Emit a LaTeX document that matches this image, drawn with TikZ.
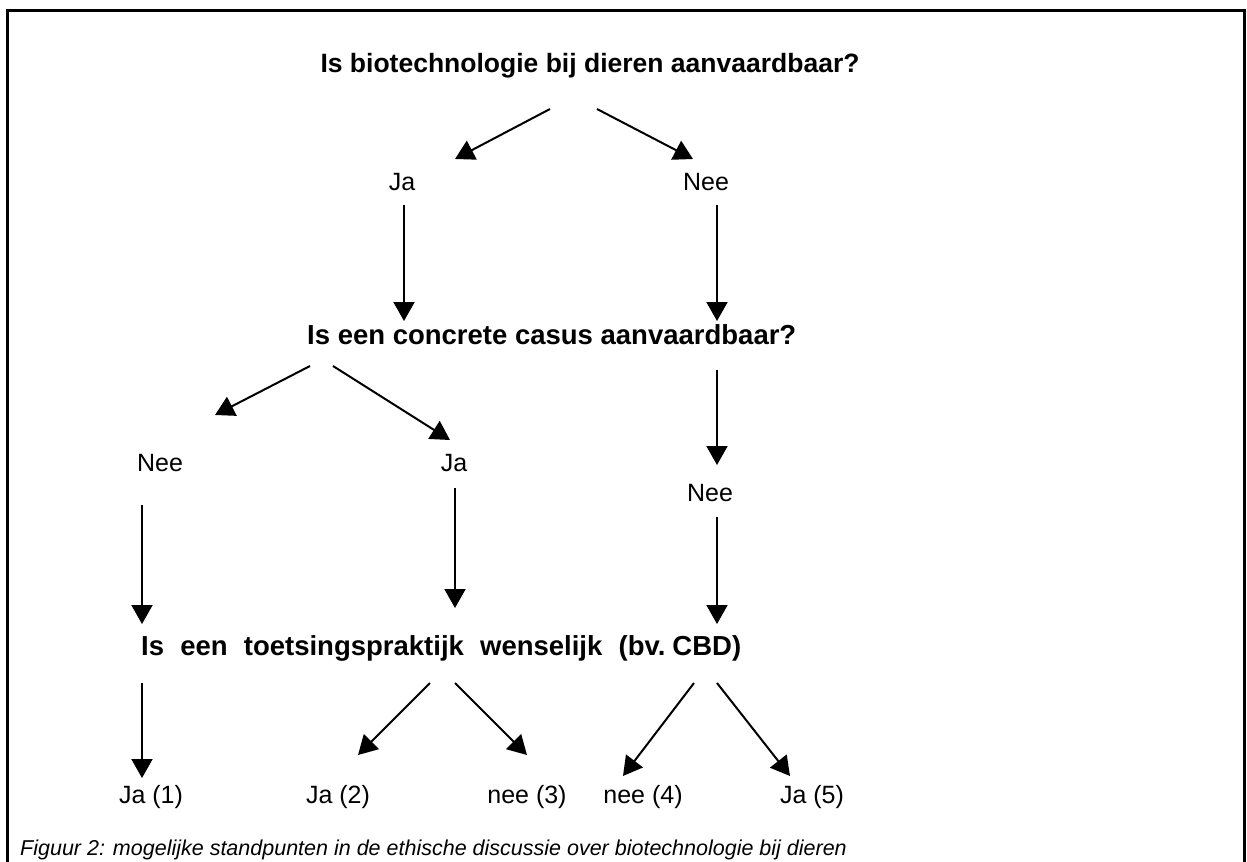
\documentclass[tikz,border=0pt]{standalone}
\usepackage{fontspec}
\setmainfont{Liberation Sans}
\usetikzlibrary{arrows.meta}
\begin{document}
\begin{tikzpicture}[x=1bp,y=-1bp,
  lbl/.style={inner sep=0pt,anchor=base,font=\fontsize{25bp}{30bp}\selectfont},
  qst/.style={inner sep=0pt,anchor=base west,font=\fontsize{27.5bp}{33bp}\selectfont\bfseries},
  arr/.style={line width=2bp,-{Triangle[length=19bp,width=21bp]}},
  frame/.style={line width=3bp}]
\useasboundingbox (0,0) rectangle (1247,862);
% frame (open at the bottom)
\draw[frame] (7.5,870) -- (7.5,10.5) -- (1244,10.5) -- (1244,870);
% questions
\node[qst,anchor=base,font=\fontsize{26.5bp}{32bp}\selectfont\bfseries] (q1) at (590,72) {Is biotechnologie bij dieren aanvaardbaar?};
\node[qst] (q2) at (307,344) {Is een concrete casus aanvaardbaar?};
\node[qst] (q3) at (141,655) {\makebox[600bp][s]{Is een toetsingspraktijk wenselijk \mbox{(bv.\kern7bp CBD)}}};
% answers
\node[lbl] (ja1) at (402,190) {Ja};
\node[lbl] (nee1) at (706,190) {Nee};
\node[lbl] (nee2) at (160,471) {Nee};
\node[lbl] (ja2) at (454,471) {Ja};
\node[lbl] (nee3) at (710,501) {Nee};
\node[lbl] (r1) at (151,803) {Ja (1)};
\node[lbl] (r2) at (338,803) {Ja (2)};
\node[lbl] (r3) at (527,803) {nee (3)};
\node[lbl] (r4) at (643,803) {nee (4)};
\node[lbl] (r5) at (812,803) {Ja (5)};
% caption
\node[inner sep=0pt,anchor=base west,font=\fontsize{21.5bp}{26bp}\selectfont\itshape] (cap) at (20,855)
  {Figuur 2: mogelijke standpunten in de ethische discussie over biotechnologie bij dieren};
% connector end points
\coordinate (q1l) at (550,109);  \coordinate (ja1t) at (455,159);
\coordinate (q1r) at (597,109);  \coordinate (nee1t) at (693,159);
\coordinate (ja1b) at (404,205); \coordinate (q2a) at (404,321);
\coordinate (nee1b) at (717,205); \coordinate (q2b) at (717,321);
\coordinate (q2l) at (310,366);  \coordinate (nee2t) at (215,415);
\coordinate (q2r) at (333,366);  \coordinate (ja2t) at (450,440);
\coordinate (q2c) at (717,370);  \coordinate (nee3t) at (717,465);
\coordinate (nee2b) at (142,505); \coordinate (q3a) at (142,624);
\coordinate (ja2b) at (455,488);  \coordinate (q3b) at (455,608);
\coordinate (nee3b) at (717,517); \coordinate (q3c) at (717,624);
\coordinate (q3d) at (142,683);  \coordinate (r1t) at (142,778);
\coordinate (q3e) at (430,683);  \coordinate (r2t) at (358,755);
\coordinate (q3f) at (455,683);  \coordinate (r3t) at (527,755);
\coordinate (q3g) at (694,683);  \coordinate (r4t) at (623,776);
\coordinate (q3h) at (717,683);  \coordinate (r5t) at (790,776);
% connectors
\draw[arr] (q1l) -- (ja1t);
\draw[arr] (q1r) -- (nee1t);
\draw[arr] (ja1b) -- (q2a);
\draw[arr] (nee1b) -- (q2b);
\draw[arr] (q2l) -- (nee2t);
\draw[arr] (q2r) -- (ja2t);
\draw[arr] (q2c) -- (nee3t);
\draw[arr] (nee2b) -- (q3a);
\draw[arr] (ja2b) -- (q3b);
\draw[arr] (nee3b) -- (q3c);
\draw[arr] (q3d) -- (r1t);
\draw[arr] (q3e) -- (r2t);
\draw[arr] (q3f) -- (r3t);
\draw[arr] (q3g) -- (r4t);
\draw[arr] (q3h) -- (r5t);
\end{tikzpicture}
\end{document}
